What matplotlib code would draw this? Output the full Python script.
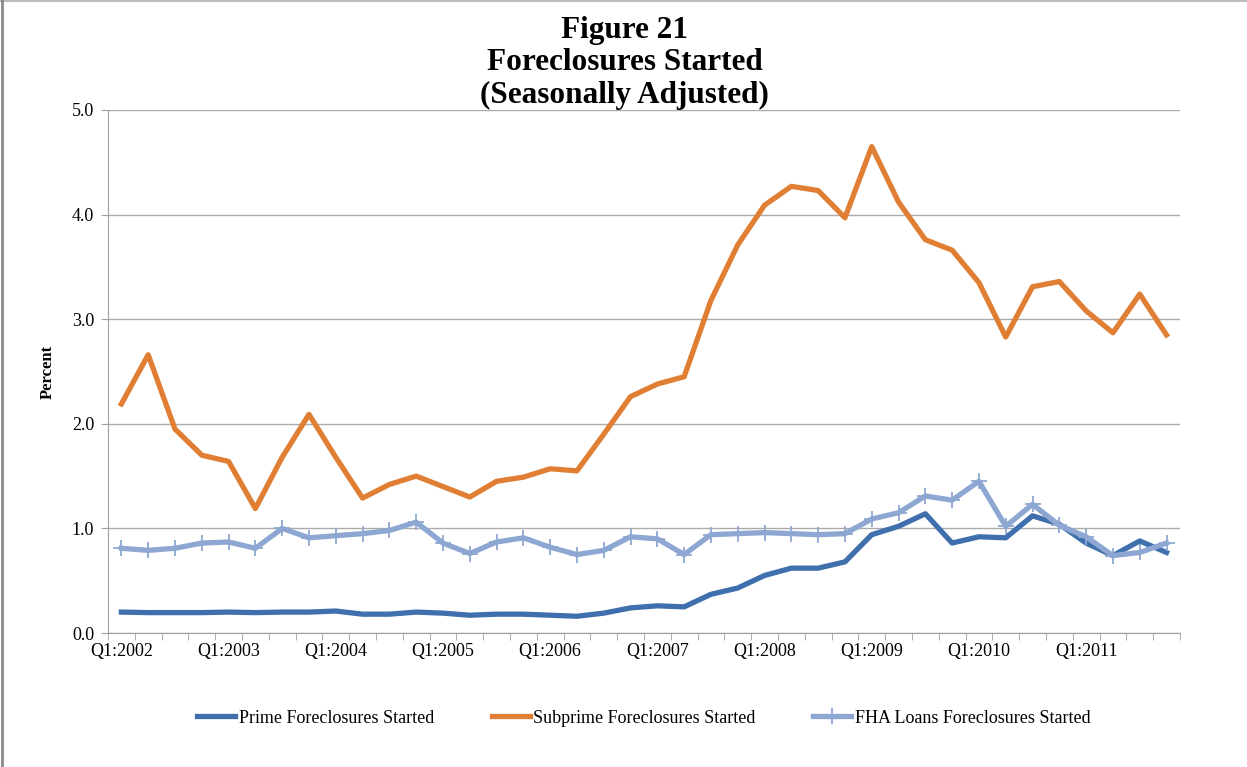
import numpy as np
import matplotlib.pyplot as plt
from matplotlib.lines import Line2D

# quarterly series, Q1:2002 .. Q4:2011 (percent)
years = list(range(2002, 2012))
quarters = [f"Q{q}:{y}" for y in years for q in range(1, 5)]
tick_labels = [f"Q1:{y}" for y in years]

prime = [0.20, 0.195, 0.195, 0.195, 0.20, 0.195, 0.20, 0.20, 0.21, 0.18,
         0.18, 0.20, 0.19, 0.17, 0.18, 0.18, 0.17, 0.16, 0.19, 0.24,
         0.26, 0.25, 0.37, 0.43, 0.55, 0.62, 0.62, 0.68, 0.94, 1.02,
         1.14, 0.86, 0.92, 0.91, 1.12, 1.04, 0.86, 0.74, 0.88, 0.77]
subprime = [2.19, 2.66, 1.95, 1.70, 1.64, 1.19, 1.68, 2.09, 1.68, 1.29,
            1.42, 1.50, 1.40, 1.30, 1.45, 1.49, 1.57, 1.55, 1.90, 2.26,
            2.38, 2.45, 3.18, 3.71, 4.09, 4.27, 4.23, 3.97, 4.65, 4.12,
            3.76, 3.66, 3.35, 2.83, 3.31, 3.36, 3.08, 2.87, 3.24, 2.85]
fha = [0.81, 0.79, 0.81, 0.86, 0.87, 0.81, 1.00, 0.91, 0.93, 0.95,
       0.98, 1.06, 0.86, 0.76, 0.87, 0.91, 0.82, 0.75, 0.79, 0.92,
       0.90, 0.75, 0.94, 0.95, 0.96, 0.95, 0.94, 0.95, 1.09, 1.15,
       1.31, 1.27, 1.45, 1.02, 1.23, 1.03, 0.92, 0.74, 0.77, 0.86]

plt.rcParams['font.family'] = ['Liberation Serif', 'DejaVu Serif']

fig = plt.figure(figsize=(12.47, 7.67), dpi=100)
ax = fig.add_axes([0.0866, 0.1747, 0.8596, 0.6819])

x = np.arange(len(quarters)) + 0.5
ax.plot(x, prime, color='#3F6FAC', lw=3.8, solid_joinstyle='round', label='Prime Foreclosures Started', zorder=3)
ax.plot(x, subprime, color='#E07F33', lw=3.8, solid_joinstyle='round', label='Subprime Foreclosures Started', zorder=3)
ax.plot(x, fha, color='#8DA7D2', lw=3.8, marker='+', ms=11, mew=1.3, solid_joinstyle='round',
        label='FHA Loans Foreclosures Started', zorder=4)

ax.set_xlim(0, len(quarters))
ax.set_ylim(0, 5)
ax.set_yticks(np.arange(0, 5.01, 1.0))
ax.set_yticklabels([f"{v:.1f}" for v in np.arange(0, 5.01, 1.0)], fontsize=13)
ax.set_xticks(x[::4])
ax.set_xticklabels(tick_labels, fontsize=13)
ax.set_xticks(np.arange(0, len(quarters) + 1), minor=True)
ax.tick_params(axis='x', which='major', length=0, pad=7)
ax.tick_params(axis='x', which='minor', length=5, color='#A0A0A0', direction='out')
ax.tick_params(axis='y', length=5, color='#A0A0A0', pad=5)
ax.grid(axis='y', color='#ABABAB', lw=1)
ax.set_axisbelow(True)
for s in ['top', 'right']:
    ax.spines[s].set_visible(False)
for s in ['left', 'bottom']:
    ax.spines[s].set_color('#A0A0A0')

ax.set_ylabel('Percent', fontsize=12, fontweight='bold')
ax.yaxis.set_label_coords(-0.049, 0.5)

fig.text(0.501, 0.918, 'Figure 21\nForeclosures Started\n(Seasonally Adjusted)', ha='center', va='center',
         fontsize=22.5, fontweight='bold', linespacing=1.15)

ax.legend(loc='center', bbox_to_anchor=(0.5, -0.163), ncol=3, frameon=False, fontsize=13,
          handlelength=2.1, handletextpad=0.2, columnspacing=3.2)

# chart frame: light top edge and darker left edge
fig.add_artist(Line2D([0, 1], [0.999, 0.999], transform=fig.transFigure, color='#BDBDBD', lw=1.5))
fig.add_artist(Line2D([0.002, 0.002], [0, 1], transform=fig.transFigure, color='#8A8A8A', lw=2))

fig.savefig('out.png', dpi=100)
